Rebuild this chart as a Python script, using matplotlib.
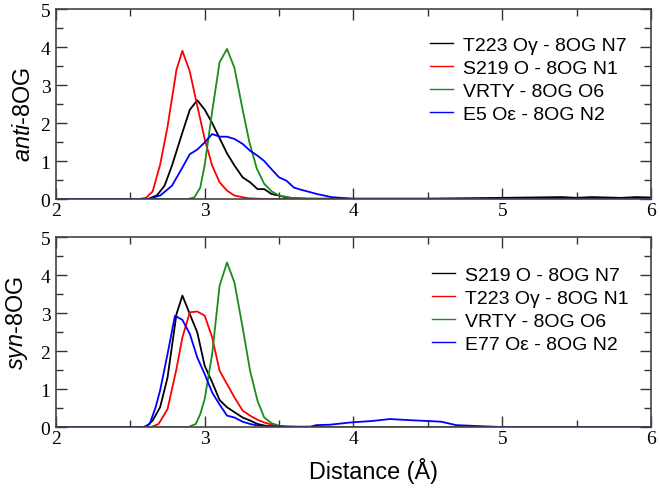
import matplotlib
matplotlib.use("Agg")
import matplotlib.pyplot as plt
from matplotlib.ticker import MultipleLocator

plt.rcParams['font.family'] = ['Liberation Sans', 'DejaVu Sans']
plt.rcParams['mathtext.fontset'] = 'custom'
plt.rcParams['mathtext.rm'] = 'Liberation Sans'
plt.rcParams['mathtext.it'] = 'Liberation Sans:italic'

# ---- anti-8OG (top panel) ----
anti_labels = ["T223 O\u03b3 - 8OG N7", "S219 O - 8OG N1", "VRTY - 8OG O6", "E5 O\u03b5 - 8OG N2"]

anti_black_x = [2.0, 2.62, 2.68, 2.73, 2.78, 2.85, 2.90, 2.95, 3.00, 3.05, 3.10, 3.15, 3.20, 3.255,
                3.305, 3.355, 3.40, 3.45, 3.50, 3.55, 3.60, 3.70, 4.0, 4.5, 5.0, 5.2, 5.4, 5.5,
                5.6, 5.8, 5.9, 6.0]
anti_black_y = [0.0, 0.0, 0.1, 0.35, 0.88, 1.75, 2.35, 2.6, 2.35, 2.0, 1.6, 1.2, 0.88, 0.57,
                0.44, 0.26, 0.26, 0.13, 0.09, 0.04, 0.02, 0.01, 0.01, 0.01, 0.03, 0.04, 0.05, 0.03,
                0.05, 0.03, 0.05, 0.04]

anti_red_x = [2.0, 2.56, 2.605, 2.65, 2.70, 2.75, 2.81, 2.85, 2.90, 2.95, 3.00, 3.05, 3.10, 3.15,
              3.20, 3.29, 3.40, 6.0]
anti_red_y = [0.0, 0.0, 0.03, 0.2, 0.9, 1.9, 3.4, 3.9, 3.35, 2.45, 1.58, 0.88, 0.44, 0.22,
              0.09, 0.02, 0.0, 0.0]

anti_green_x = [2.0, 2.885, 2.93, 2.97, 3.00, 3.05, 3.10, 3.15, 3.20, 3.255, 3.30, 3.35, 3.40,
                3.45, 3.50, 3.60, 3.70, 6.0]
anti_green_y = [0.0, 0.0, 0.04, 0.3, 0.9, 2.3, 3.6, 3.95, 3.45, 2.35, 1.5, 0.8, 0.4,
                0.2, 0.09, 0.02, 0.0, 0.0]

anti_blue_x = [2.0, 2.62, 2.70, 2.78, 2.85, 2.90, 2.95, 3.00, 3.05, 3.10, 3.15, 3.20, 3.255,
               3.305, 3.355, 3.40, 3.45, 3.50, 3.55, 3.60, 3.65, 3.70, 3.755, 3.805, 3.85,
               3.95, 4.0, 6.0]
anti_blue_y = [0.0, 0.0, 0.09, 0.35, 0.83, 1.18, 1.3, 1.49, 1.71, 1.64, 1.64, 1.58, 1.45,
               1.27, 1.14, 1.0, 0.78, 0.57, 0.48, 0.3, 0.24, 0.19, 0.13, 0.09, 0.05,
               0.02, 0.0, 0.0]

# ---- syn-8OG (bottom panel) ----
syn_labels = ["S219 O - 8OG N7", "T223 O\u03b3 - 8OG N1", "VRTY - 8OG O6", "E77 O\u03b5 - 8OG N2"]

syn_black_x = [2.0, 2.605, 2.65, 2.70, 2.75, 2.81, 2.85, 2.90, 2.95, 3.00, 3.05, 3.10, 3.15,
               3.20, 3.255, 3.305, 3.355, 3.40, 3.45, 3.55, 6.0]
syn_black_y = [0.0, 0.0, 0.17, 0.52, 1.3, 2.97, 3.46, 2.97, 2.49, 1.61, 1.18, 0.71, 0.52,
               0.39, 0.25, 0.17, 0.08, 0.04, 0.01, 0.0, 0.0]

syn_red_x = [2.0, 2.64, 2.69, 2.75, 2.81, 2.85, 2.90, 2.95, 3.00, 3.05, 3.10, 3.15, 3.20,
             3.255, 3.305, 3.355, 3.40, 3.45, 3.50, 3.55, 3.65, 6.0]
syn_red_y = [0.0, 0.0, 0.08, 0.47, 1.53, 2.36, 3.02, 3.04, 2.93, 2.36, 1.48, 1.13, 0.78,
             0.43, 0.3, 0.19, 0.12, 0.06, 0.03, 0.01, 0.0, 0.0]

syn_green_x = [2.0, 2.89, 2.94, 2.97, 3.00, 3.05, 3.10, 3.15, 3.20, 3.255, 3.305, 3.355,
               3.40, 3.45, 3.50, 3.55, 3.65, 6.0]
syn_green_y = [0.0, 0.0, 0.08, 0.34, 0.74, 1.92, 3.72, 4.33, 3.8, 2.62, 1.48, 0.69,
               0.25, 0.1, 0.03, 0.01, 0.0, 0.0]

syn_blue_x = [2.0, 2.59, 2.63, 2.67, 2.70, 2.75, 2.80, 2.85, 2.90, 2.95, 3.00, 3.05, 3.10,
              3.15, 3.20, 3.255, 3.305, 3.355, 3.45, 3.55, 3.71, 3.75, 3.84, 3.98, 4.13,
              4.245, 4.38, 4.49, 4.59, 4.69, 4.87, 5.0, 6.0]
syn_blue_y = [0.0, 0.0, 0.08, 0.52, 0.96, 1.92, 2.93, 2.82, 2.45, 1.83, 1.39, 0.91, 0.59,
              0.3, 0.25, 0.14, 0.08, 0.04, 0.02, 0.01, 0.01, 0.05, 0.06, 0.12, 0.16,
              0.21, 0.18, 0.16, 0.14, 0.05, 0.02, 0.0, 0.0]

colors = ['black', '#ff0000', '#1a8c1a', '#0000ff']

fig = plt.figure(figsize=(6.6, 4.89), dpi=100)
ax1 = fig.add_axes([0.0848, 0.591, 0.9015, 0.3885])
ax2 = fig.add_axes([0.0848, 0.1247, 0.9015, 0.3885])

anti = [(anti_black_x, anti_black_y), (anti_red_x, anti_red_y),
        (anti_green_x, anti_green_y), (anti_blue_x, anti_blue_y)]
syn = [(syn_black_x, syn_black_y), (syn_red_x, syn_red_y),
       (syn_green_x, syn_green_y), (syn_blue_x, syn_blue_y)]

for ax, series, labels, leg_xy in [(ax1, anti, anti_labels, (0.629, 0.857)),
                                   (ax2, syn, syn_labels, (0.632, 0.846))]:
    for (x, y), c, lab in zip(series, colors, labels):
        ax.plot(x, y, color=c, lw=1.3, label=lab)
    ax.set_xlim(2, 6)
    ax.set_ylim(0, 5)
    ax.xaxis.set_major_locator(MultipleLocator(1))
    ax.xaxis.set_minor_locator(MultipleLocator(0.5))
    ax.yaxis.set_major_locator(MultipleLocator(1))
    ax.yaxis.set_minor_locator(MultipleLocator(0.5))
    ax.tick_params(which='both', direction='in', top=True, right=True, color='#333333')
    ax.tick_params(which='major', length=8, width=1)
    ax.tick_params(which='minor', length=5, width=1)
    ax.tick_params(axis='x', pad=2)
    ax.tick_params(axis='y', pad=4)
    for lbl in ax.get_xticklabels() + ax.get_yticklabels():
        lbl.set_fontfamily('Liberation Serif')
        lbl.set_fontsize(14)
    for sp in ax.spines.values():
        sp.set_color('#444444')
        sp.set_linewidth(1.2)
    leg = ax.legend(loc='upper left', bbox_to_anchor=leg_xy, frameon=False,
                    fontsize=14, handlelength=1.19, handletextpad=0.5, labelspacing=0.28,
                    borderpad=0, borderaxespad=0)
    for h in leg.get_lines():
        h.set_linewidth(1.0)

ax1.set_ylabel(r'$\mathit{anti}$-8OG', fontsize=16.8)
ax1.yaxis.set_label_coords(-0.035, 0.45)
ax2.set_ylabel(r'$\mathit{syn}$-8OG', fontsize=16.8)
ax2.yaxis.set_label_coords(-0.044, 0.551)
ax2.set_xlabel('Distance (\u00c5)', fontsize=16.8)
ax2.xaxis.set_label_coords(0.534, -0.158)

fig.savefig('out.png', dpi=100)
